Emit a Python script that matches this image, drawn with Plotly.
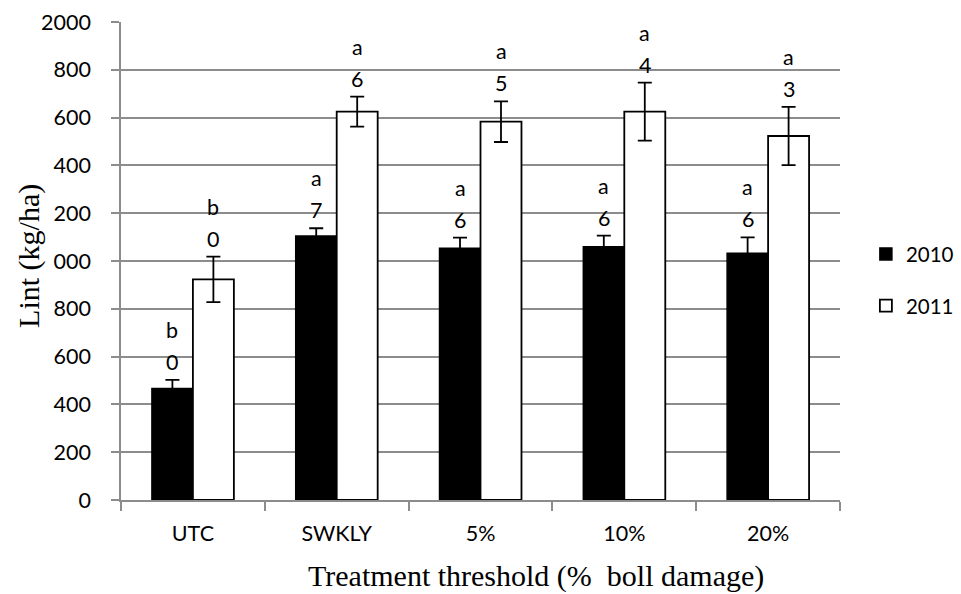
import plotly.graph_objects as go

categories = ["UTC", "SWKLY", "5%", "10%", "20%"]
lint_2010 = [467, 1105, 1053, 1060, 1032]
err_2010 = [36, 32, 45, 46, 67]
lint_2011 = [923, 1625, 1583, 1625, 1523]
err_2011 = [95, 63, 85, 121, 122]
letters_2010 = ["b", "a", "a", "a", "a"]
digits_2010 = ["0", "7", "6", "6", "6"]
letters_2011 = ["b", "a", "a", "a", "a"]
digits_2011 = ["0", "6", "5", "4", "3"]
tick_vals = [0, 200, 400, 600, 800, 1000, 1200, 1400, 1600, 1800, 2000]
tick_text = ["0", "200", "400", "600", "800", "000", "200", "400", "600", "800", "2000"]

SANS = "Lato, 'Open Sans', sans-serif"
SERIF = "'Liberation Serif', 'Times New Roman', serif"
FS = 21.5

fig = go.Figure()
fig.add_trace(go.Bar(
    x=categories, y=lint_2010, name="2010", legendgroup="g1",
    marker=dict(color="black", line=dict(color="black", width=1.5)),
    error_y=dict(type="data", array=err_2010, color="black", thickness=1.8, width=7),
))
fig.add_trace(go.Bar(
    x=categories, y=lint_2011, name="2011", legendgroup="g2",
    marker=dict(color="white", line=dict(color="black", width=1.8)),
    error_y=dict(type="data", array=err_2011, color="black", thickness=1.8, width=7),
))

annotations = []
for vals, errs, lets, digs, shift in [
    (lint_2010, err_2010, letters_2010, digits_2010, -20.5),
    (lint_2011, err_2011, letters_2011, digits_2011, 20.5),
]:
    for c, v, e, l, d in zip(categories, vals, errs, lets, digs):
        annotations.append(dict(x=c, y=v + e, xref="x", yref="y", text=d, showarrow=False,
                                xshift=shift, yshift=18, yanchor="middle",
                                font=dict(family=SANS, size=FS, color="black")))
        annotations.append(dict(x=c, y=v + e, xref="x", yref="y", text=l, showarrow=False,
                                xshift=shift, yshift=50, yanchor="middle",
                                font=dict(family=SANS, size=FS, color="black")))

annotations.append(dict(x=0.577, y=-0.158, xref="paper", yref="paper", yanchor="middle",
                        text="Treatment threshold (%  boll damage)", showarrow=False,
                        font=dict(family=SERIF, size=30, color="black")))
annotations.append(dict(x=-0.127, y=0.51, xref="paper", yref="paper", textangle=-90,
                        text="Lint (kg/ha)", showarrow=False, xanchor="center",
                        font=dict(family=SERIF, size=30, color="black")))

fig.update_layout(
    width=961, height=594,
    margin=dict(l=121, r=121, t=22, b=94, autoexpand=False),
    plot_bgcolor="white", paper_bgcolor="white",
    barmode="group", bargap=0.43, bargroupgap=0,
    showlegend=True,
    legend=dict(x=1.036, y=0.46, xanchor="left", yanchor="middle",
                font=dict(family=SANS, size=20.5, color="black"),
                itemwidth=30,
                tracegroupgap=22, bgcolor="rgba(0,0,0,0)"),
    annotations=annotations,
    xaxis=dict(
        showline=True, linecolor="#8c8c8c", linewidth=1.5,
        ticks="outside", ticklen=9, tickcolor="#8c8c8c", tickwidth=1.5,
        tickson="boundaries", showgrid=False,
        tickfont=dict(family=SANS, size=FS, color="black"),
        ticklabelstandoff=13, automargin=False,
    ),
    yaxis=dict(
        range=[0, 2000], tickvals=tick_vals, ticktext=tick_text,
        showline=True, linecolor="#8c8c8c", linewidth=1.5,
        ticks="outside", ticklen=8, tickcolor="#8c8c8c", tickwidth=1.5,
        showgrid=True, gridcolor="#8c8c8c", gridwidth=1.5,
        zeroline=False,
        tickfont=dict(family=SANS, size=FS, color="black"),
        ticklabelstandoff=16, automargin=False,
    ),
)

fig.write_html("out.html")
